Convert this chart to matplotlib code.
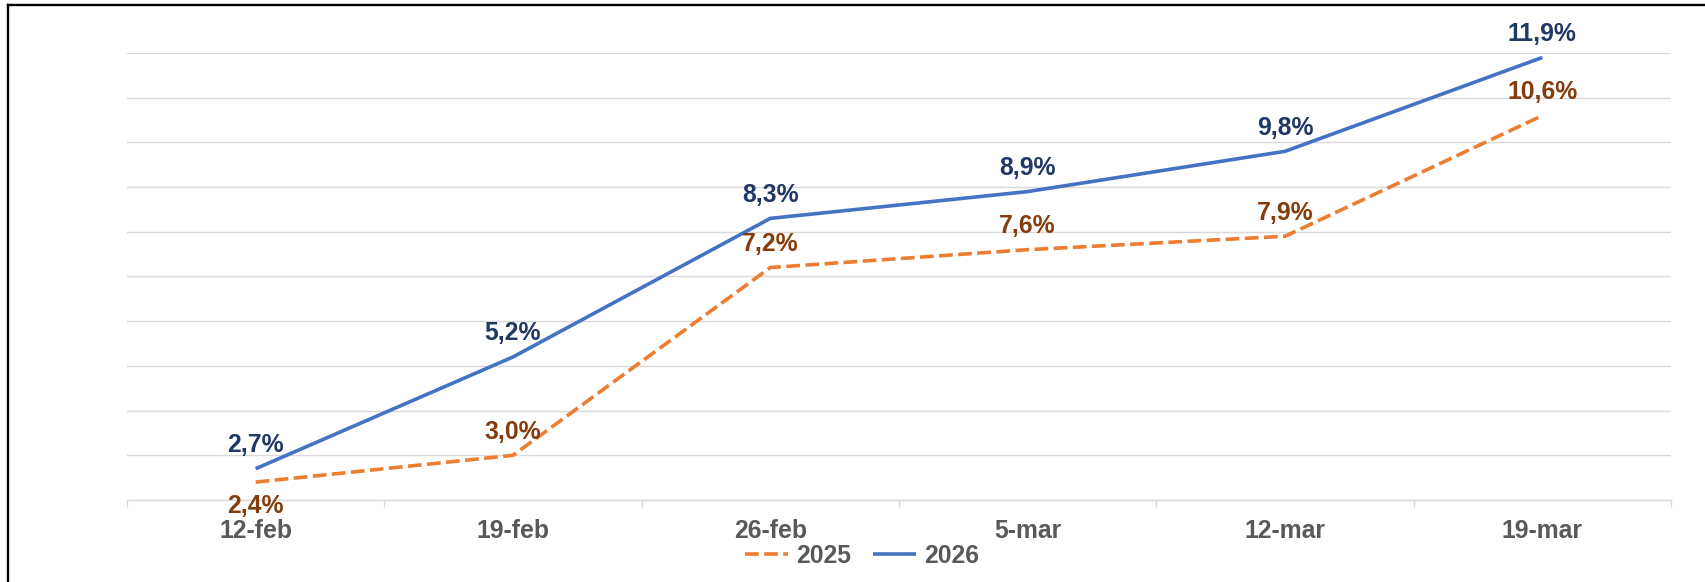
import matplotlib
matplotlib.use("Agg")
import matplotlib.pyplot as plt
from matplotlib.lines import Line2D
from matplotlib.ticker import FixedLocator, MultipleLocator

categories = ["12-feb", "19-feb", "26-feb", "5-mar", "12-mar", "19-mar"]
values_2025 = [2.4, 3.0, 7.2, 7.6, 7.9, 10.6]
values_2026 = [2.7, 5.2, 8.3, 8.9, 9.8, 11.9]
series_names = ["2025", "2026"]

plt.rcParams['font.family'] = ['Liberation Sans', 'DejaVu Sans']

W, H = 1705, 582
fig = plt.figure(figsize=(W / 100, H / 100), dpi=100)
ax = fig.add_axes([127 / W, 1 - 500 / H, (1671 - 127) / W, (500 - 53) / H])

x = list(range(len(categories)))
c25, c26 = "#ED7D31", "#4472C4"
lab25, lab26 = "#843C0C", "#1F3864"
FS = 17.8

l25, = ax.plot(x, values_2025, color=c25, lw=2.6, linestyle=(0, (3.8, 1.5)),
               label=series_names[0], zorder=3)
l26, = ax.plot(x, values_2026, color=c26, lw=2.6, label=series_names[1],
               zorder=4, solid_capstyle='butt')

def fmt(v):
    return f"{v:.1f}".replace('.', ',') + '%'

for i, v in enumerate(values_2026):
    ax.annotate(fmt(v), (i, v), xytext=(0, 17), textcoords='offset points',
                ha='center', va='center', fontsize=FS, fontweight='bold',
                color=lab26, zorder=5)
for i, v in enumerate(values_2025):
    dy = -17 if i == 0 else 17
    ax.annotate(fmt(v), (i, v), xytext=(0, dy), textcoords='offset points',
                ha='center', va='center', fontsize=FS, fontweight='bold',
                color=lab25, zorder=5)

ax.set_xlim(-0.5, len(categories) - 0.5)
ax.set_ylim(2, 12)
ax.yaxis.set_major_locator(MultipleLocator(1))
ax.grid(axis='y', color='#D9D9D9', lw=1.0)
ax.set_axisbelow(True)
for s in ['top', 'right', 'left']:
    ax.spines[s].set_visible(False)
ax.spines['bottom'].set_color('#D9D9D9')
ax.spines['bottom'].set_linewidth(1.0)
ax.set_yticklabels([])
ax.tick_params(axis='y', length=0)

ax.set_xticks(x)
ax.set_xticklabels(categories, fontsize=FS, fontweight='bold', color='#595959')
ax.xaxis.set_minor_locator(FixedLocator([i - 0.5 for i in range(len(categories) + 1)]))
ax.tick_params(axis='x', which='major', length=0, pad=13.5)
ax.tick_params(axis='x', which='minor', length=5, color='#D9D9D9', width=1.0)

fig.legend(handles=[l25, l26], loc='center', bbox_to_anchor=(862 / W, 1 - 556 / H),
           ncol=2, frameon=False, prop={'size': FS, 'weight': 'bold'},
           labelcolor='#595959', handlelength=1.75, handletextpad=0.35,
           columnspacing=0.85, borderpad=0, borderaxespad=0)

# partial frame (left and top border)
fig.add_artist(Line2D([7.8 / W, 7.8 / W], [0, 1 - 5.2 / H], color='black', lw=1.7,
                      transform=fig.transFigure, solid_capstyle='projecting'))
fig.add_artist(Line2D([7.8 / W, 1], [1 - 5.2 / H, 1 - 5.2 / H], color='black', lw=1.7,
                      transform=fig.transFigure, solid_capstyle='projecting'))

fig.savefig("out.png", dpi=100)
